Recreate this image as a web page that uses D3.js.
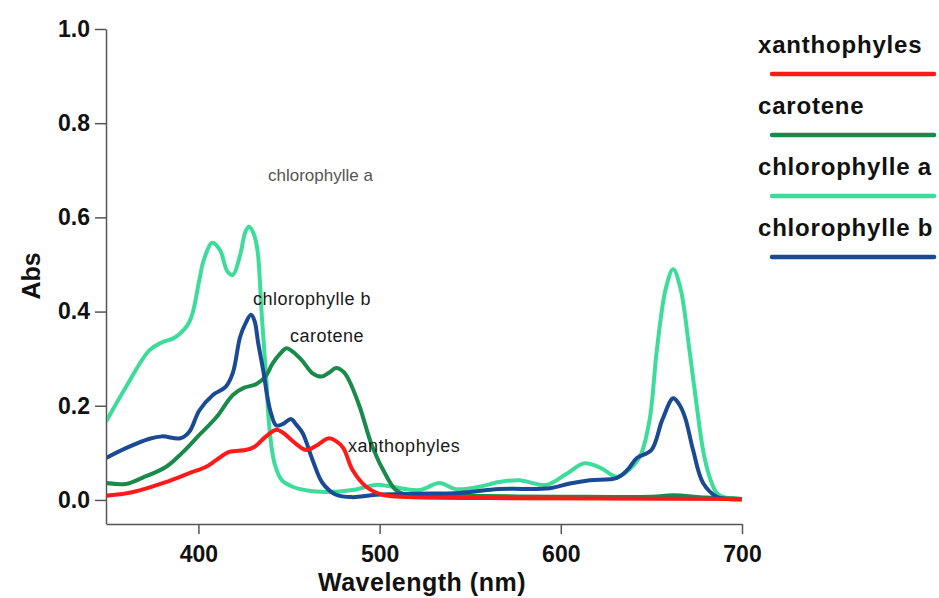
<!DOCTYPE html>
<html>
<head>
<meta charset="utf-8">
<script src="https://cdn.jsdelivr.net/npm/d3@7/dist/d3.min.js"></script>
<style>
  body { margin: 0; background: #fff; }
  text { font-family: "Liberation Sans", Arial, sans-serif; }
</style>
</head>
<body>
<script>
// Absorbance spectra: [wavelength nm, Abs]
var xanthophyles = [[349,0.009],[364,0.017],[382,0.038],[395,0.057],[404,0.07],[410,0.085],[417,0.102],[426,0.106],[431,0.113],
  [437,0.134],[443,0.149],[447,0.142],[452,0.125],[457,0.11],[460,0.106],[465,0.115],[472,0.131],[476,0.125],[480,0.11],
  [485,0.064],[492.6,0.028],[501.6,0.011],[516,0.006],[560,0.004],[620,0.003],[700,0.002]];

var carotene = [[349,0.036],[360,0.034],[369,0.047],[382,0.07],[391,0.1],[400.5,0.138],[410,0.176],[419,0.223],[425,0.238],
  [432,0.246],[437,0.262],[441,0.29],[445,0.31],[448.6,0.322],[452,0.315],[457,0.297],[463,0.269],[468,0.262],[472,0.27],
  [476,0.28],[480,0.272],[483,0.255],[489,0.198],[496,0.113],[504,0.049],[509,0.021],[515,0.011],[540,0.009],[600,0.007],
  [650,0.007],[662,0.01],[680,0.005],[700,0.002]];

var chloroA = [[349,0.166],[360,0.24],[373,0.318],[380,0.335],[387,0.345],[395,0.378],[400.5,0.467],[403,0.51],[407.7,0.546],
  [412,0.53],[416,0.485],[419,0.478],[423,0.52],[426,0.57],[428,0.58],[430.5,0.565],[432.6,0.53],[435,0.39],[437.5,0.255],
  [439,0.16],[442,0.078],[446,0.042],[452,0.028],[460,0.02],[470,0.017],[485,0.021],[498,0.032],[507,0.028],[522,0.021],
  [533,0.036],[542,0.023],[555,0.028],[566,0.038],[577,0.042],[592,0.032],[603,0.055],[613,0.078],[622,0.068],[631,0.049],
  [638,0.065],[644,0.095],[649,0.17],[653,0.318],[658,0.45],[662,0.49],[666,0.45],[671,0.318],[675,0.2],[678.5,0.106],
  [682,0.05],[686,0.015],[690,0.006],[695,0.004],[700,0.002]];

var chloroB = [[349,0.089],[360,0.11],[373,0.13],[380,0.135],[390,0.131],[395,0.145],[400.5,0.19],[408,0.223],[415,0.24],
  [419,0.27],[423,0.346],[426,0.375],[429,0.393],[431,0.38],[433,0.333],[436,0.27],[438,0.22],[440,0.185],[443,0.158],
  [447,0.162],[451,0.172],[454,0.16],[457.5,0.142],[463,0.085],[468.5,0.036],[476,0.011],[485,0.006],[498,0.011],[520,0.013],
  [544,0.015],[566,0.023],[594,0.025],[605,0.035],[616,0.042],[631,0.047],[637,0.065],[642,0.089],[650,0.106],[656,0.17],
  [662,0.216],[665,0.205],[668.5,0.176],[673,0.106],[678.5,0.036],[686,0.007],[692,0.002],[700,0.001]];

var names = ["xanthophyles", "carotene", "chlorophylle a", "chlorophylle b"];
var colors = ["#ff1a1a", "#1a8a4a", "#3ddc9a", "#1b4a94"];
var series = [xanthophyles, carotene, chloroA, chloroB];
var drawOrder = [2, 1, 3, 0];

var xTicks = [400, 500, 600, 700];
var yTicks = [0, 0.2, 0.4, 0.6, 0.8, 1.0];

// in-plot labels: [text, wavelength at left edge, Abs at baseline]
var labels = [["chlorophylle a", 438.4, 0.677], ["chlorophylle b", 430.1, 0.414], ["carotene", 450.5, 0.335], ["xanthophyles", 482.6, 0.102]];

var w = 939, h = 598;

var x = d3.scaleLinear().domain([349, 700]).range([106, 742]);
var y = d3.scaleLinear().domain([-0.05, 1]).range([523.5, 29]);

var svg = d3.select("body").append("svg")
  .attr("width", w)
  .attr("height", h);

svg.append("rect").attr("width", w).attr("height", h).attr("fill", "#fff");

svg.append("clipPath").attr("id", "plot")
  .append("rect").attr("x", 107).attr("y", 0).attr("width", 640).attr("height", 524);

// axes
svg.append("g")
  .attr("transform", "translate(106,0)")
  .call(d3.axisLeft(y).tickValues(yTicks).tickFormat(d3.format(".1f")).tickSize(11).tickSizeOuter(0).tickPadding(5));

svg.append("g")
  .attr("transform", "translate(0,524)")
  .call(d3.axisBottom(x).tickValues(xTicks).tickFormat(d3.format("d")).tickSize(10).tickSizeOuter(0).tickPadding(12));

svg.selectAll(".domain, .tick line").attr("stroke", "#555").attr("stroke-width", 1.5);
svg.selectAll(".tick text")
  .style("font-size", "23px")
  .style("font-weight", "bold")
  .attr("fill", "#111");

svg.append("text")
  .attr("transform", "translate(40,276) rotate(-90)")
  .attr("text-anchor", "middle")
  .style("font-size", "25px")
  .style("font-weight", "bold")
  .attr("fill", "#111")
  .text("Abs");

svg.append("text")
  .attr("x", 422).attr("y", 591)
  .attr("text-anchor", "middle")
  .style("font-size", "25px")
  .style("font-weight", "bold")
  .style("letter-spacing", "0.5px")
  .attr("fill", "#111")
  .text("Wavelength (nm)");

// curves
var line = d3.line()
  .x(function(d){ return x(d[0]); })
  .y(function(d){ return y(d[1]); })
  .curve(d3.curveCatmullRom.alpha(0.5));

var curves = svg.append("g").attr("clip-path", "url(#plot)");
drawOrder.forEach(function(i){
  curves.append("path")
    .datum(series[i])
    .attr("d", line)
    .attr("fill", "none")
    .attr("stroke", colors[i])
    .attr("stroke-width", 4)
    .attr("stroke-linejoin", "round");
});

// labels on the plot
svg.selectAll(".lab")
  .data(labels)
  .enter()
  .append("text")
  .attr("class", "lab")
  .attr("x", function(d){ return x(d[1]); })
  .attr("y", function(d){ return y(d[2]); })
  .style("font-size", function(d, i){ return i == 0 ? "17px" : "18px"; })
  .style("letter-spacing", function(d, i){ return i == 0 ? "0px" : "0.5px"; })
  .attr("fill", function(d, i){ return i == 0 ? "#555" : "#1a1a1a"; })
  .text(function(d){ return d[0]; });

// legend
var leg = svg.append("g").selectAll("g")
  .data(names)
  .enter()
  .append("g")
  .attr("transform", function(d, i){ return "translate(0," + (i * 61) + ")"; });

leg.append("text")
  .attr("x", 758).attr("y", 53)
  .style("font-size", "24px")
  .style("font-weight", "bold")
  .style("letter-spacing", "0.8px")
  .attr("fill", "#111")
  .text(function(d){ return d; });

leg.append("line")
  .attr("x1", 772).attr("x2", 934)
  .attr("y1", 74).attr("y2", 74)
  .attr("stroke", function(d, i){ return colors[i]; })
  .attr("stroke-width", 4.5)
  .attr("stroke-linecap", "round");
</script>
</body>
</html>
